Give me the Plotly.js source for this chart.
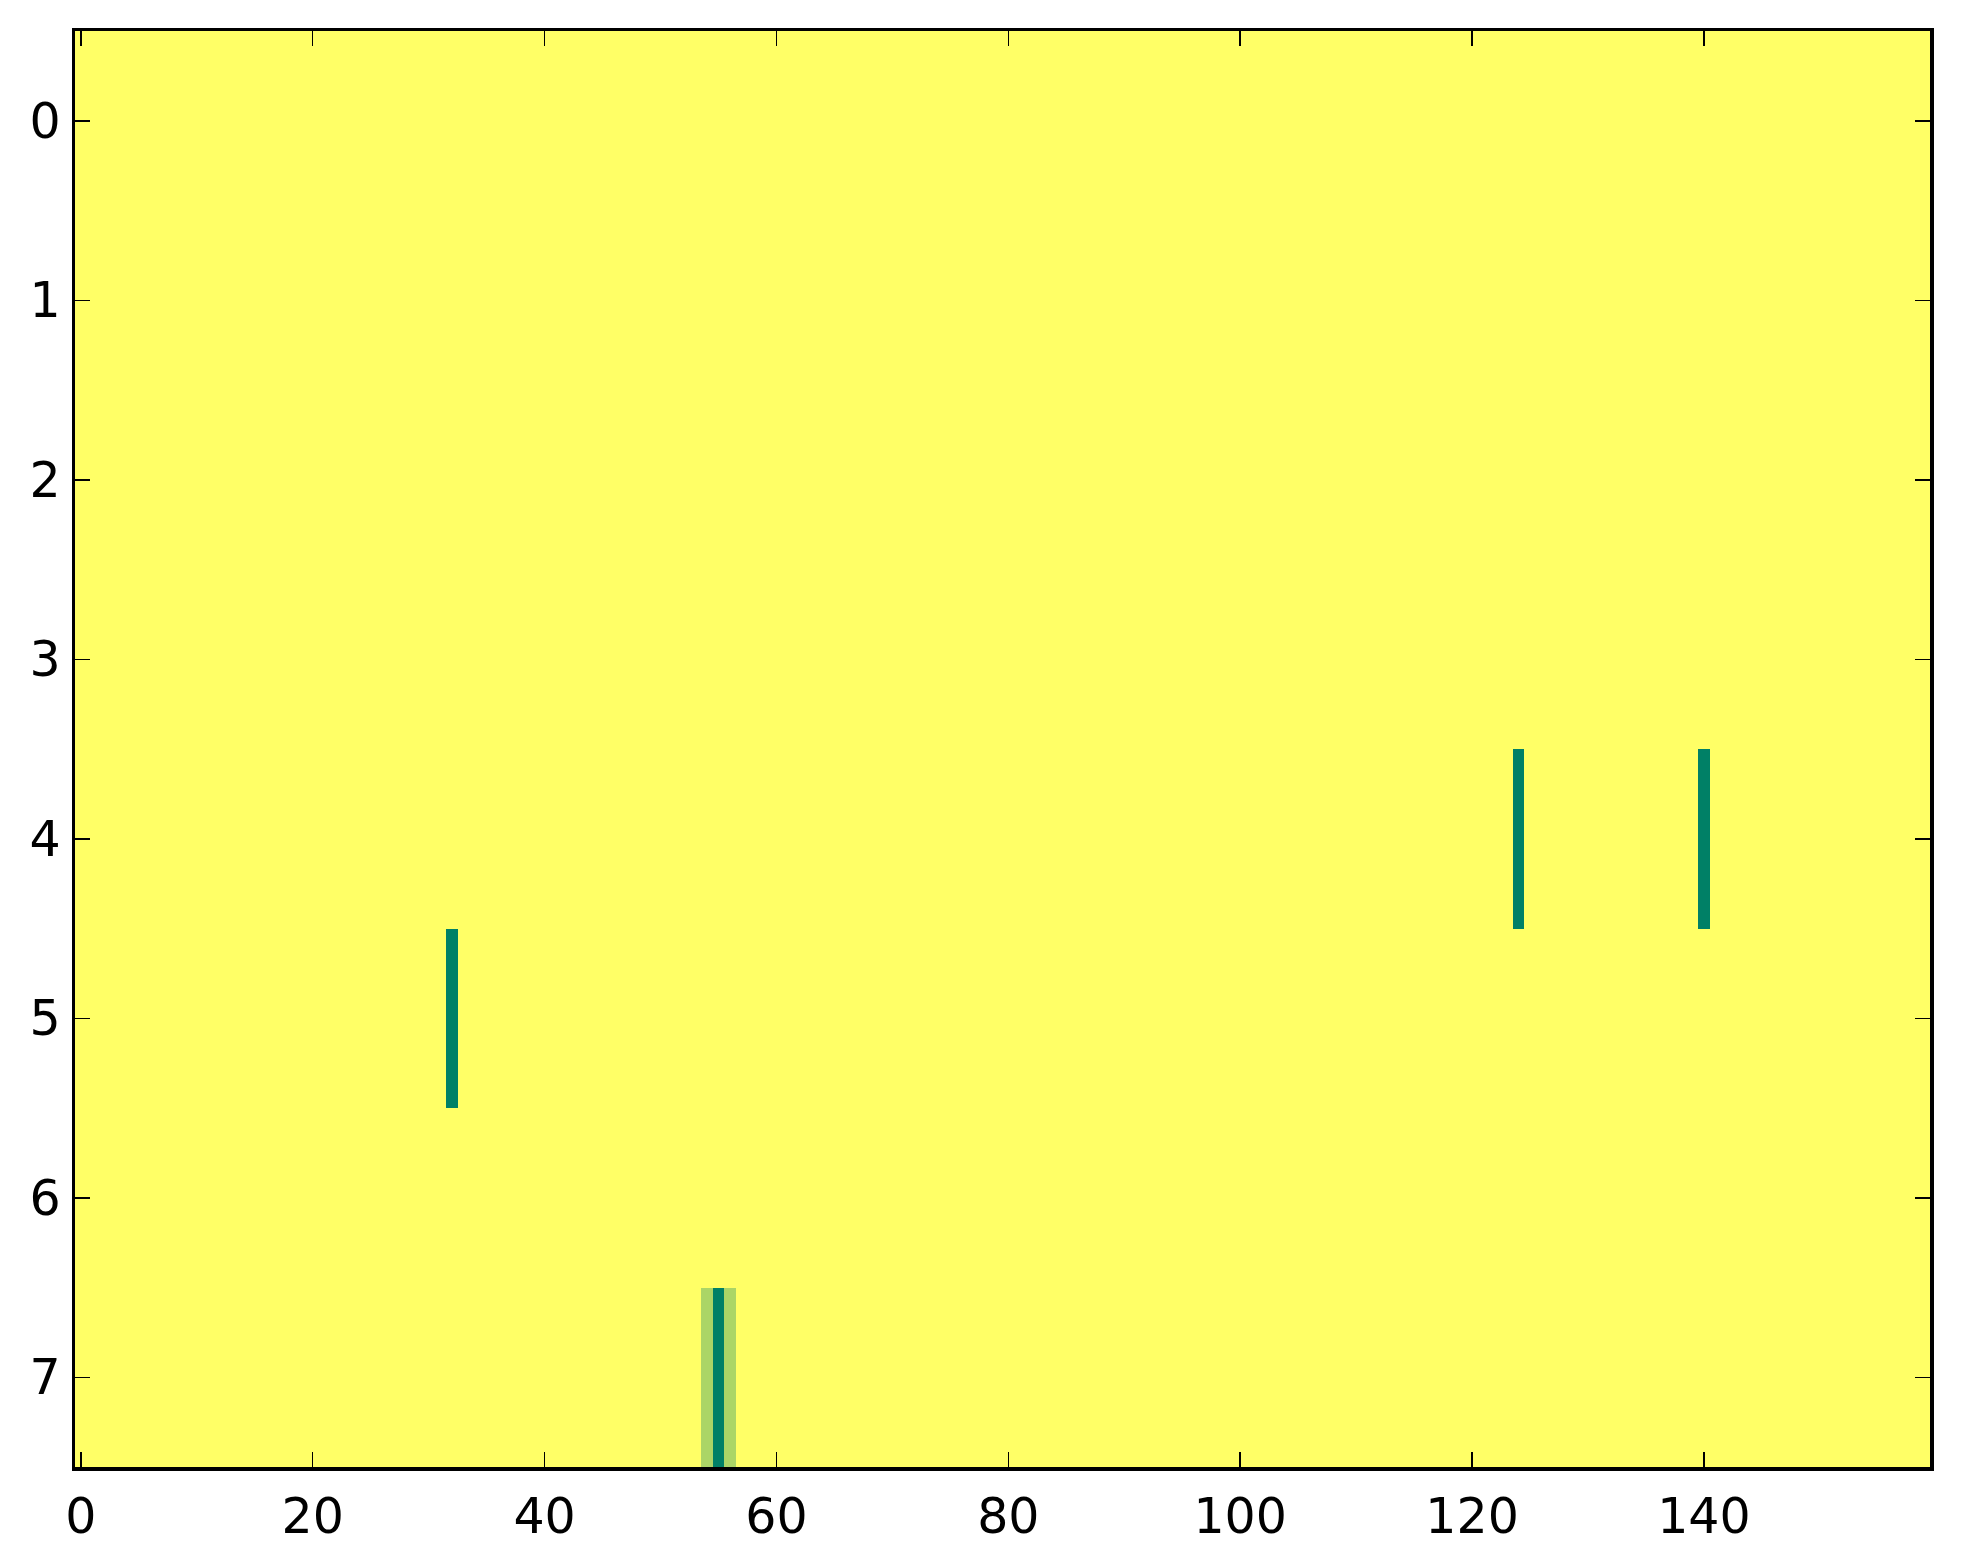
<!DOCTYPE html>
<html>
<head>
<meta charset="utf-8">
<script src="https://cdn.plot.ly/plotly-3.0.1.min.js"></script>
<style>html,body{margin:0;padding:0;background:#fff;}</style>
</head>
<body>
<div id="chart" style="width:1963px;height:1564px;"></div>
<script>
// Grid size (rows x columns) of the image
const nRows = 8;
const nCols = 160;
// Background value of every cell
const baseValue = 1;
// Cells that differ from the background
const cellRows = [5, 4, 4, 7, 7, 7];
const cellCols = [32, 124, 140, 54, 55, 56];
const cellVals = [0, 0, 0, 0.67, 0, 0.67];
// Tick labels
const xTicks = [0, 20, 40, 60, 80, 100, 120, 140];
const yTicks = [0, 1, 2, 3, 4, 5, 6, 7];

const z = [];
for (let r = 0; r < nRows; r++) {
  const row = [];
  for (let c = 0; c < nCols; c++) row.push(baseValue);
  z.push(row);
}
for (let i = 0; i < cellRows.length; i++) z[cellRows[i]][cellCols[i]] = cellVals[i];

const xs = []; for (let c = 0; c < nCols; c++) xs.push(c);
const ys = []; for (let r = 0; r < nRows; r++) ys.push(r);

const trace = {
  type: 'heatmap',
  z: z, x: xs, y: ys,
  colorscale: [[0, '#008066'], [1, '#ffff66']],
  zmin: 0, zmax: 1,
  showscale: false,
  hoverinfo: 'skip'
};

const axisCommon = {
  showline: true, linecolor: '#000', linewidth: 3.5,
  mirror: 'allticks', ticks: 'inside', ticklen: 15, tickwidth: 1.5, tickcolor: '#000',
  showgrid: false, zeroline: false,
  tickfont: {family: 'DejaVu Sans', size: 49, color: '#000'}
};

const layout = {
  width: 1963, height: 1564, autosize: false,
  margin: {l: 75, r: 33, t: 31, b: 97, pad: 0},
  paper_bgcolor: '#fff', plot_bgcolor: '#fff',
  xaxis: Object.assign({}, axisCommon, {
    range: [-0.5, nCols - 0.5], tickmode: 'array', tickvals: xTicks, ticktext: xTicks.map(String),
    ticklabelstandoff: 4
  }),
  yaxis: Object.assign({}, axisCommon, {
    range: [nRows - 0.5, -0.5], tickmode: 'array', tickvals: yTicks, ticktext: yTicks.map(String),
    ticklabelstandoff: 1
  }),
  showlegend: false
};

Plotly.newPlot('chart', [trace], layout, {displayModeBar: false, staticPlot: true});
</script>
</body>
</html>
